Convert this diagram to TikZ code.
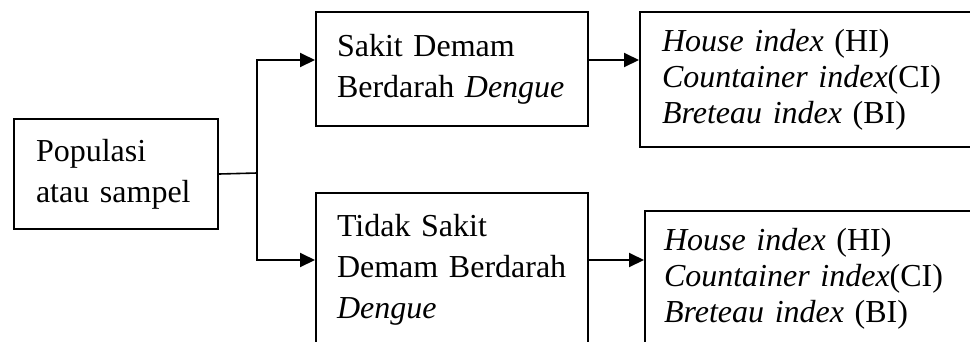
\documentclass[tikz,border=0pt]{standalone}
\usepackage{fontspec}
\setmainfont{Liberation Serif}
\usetikzlibrary{arrows.meta}

\begin{document}
\begin{tikzpicture}[x=1pt, y=-1pt,
  box/.style={draw, line width=2pt, anchor=north west, align=left,
              inner ysep=0pt, font=\fontsize{32}{41}\selectfont},
  idxbox/.style={box, font=\fontsize{32}{36}\selectfont},
  arr/.style={line width=2pt, -{Triangle[length=15pt,width=14pt]}}]

\useasboundingbox (0,0) rectangle (970,341);
\clip (0,0) rectangle (970,341);

% source box
\node[box, inner xsep=22pt, minimum width=204pt, minimum height=110pt,
      text width=160pt] (pop) at (13,118) {Populasi\\atau sampel};

% two outcome groups
\node[box, inner xsep=21pt, minimum width=272pt, minimum height=114pt,
      text width=230pt] (dbd) at (315,11) {Sakit Demam\\Berdarah \textit{Dengue}};
\node[box, inner xsep=21pt, minimum width=272pt, minimum height=153pt,
      text width=230pt] (tdbd) at (315,192) {Tidak Sakit\\Demam Berdarah\\\textit{Dengue}};

% larva indices for each group
\node[idxbox, inner xsep=22pt, minimum width=361pt, minimum height=135pt,
      text width=317pt] (idx1) at (639,11)
  {\textit{House index} (HI)\\\textit{Countainer index}(CI)\\\textit{Breteau index} (BI)};
\node[idxbox, inner xsep=19pt, minimum width=356pt, minimum height=136pt,
      text width=318pt] (idx2) at (644,210)
  {\textit{House index} (HI)\\\textit{Countainer index}(CI)\\\textit{Breteau index} (BI)};

% arrow levels on the box sides
\coordinate (dbdin)  at ([yshift=9pt]dbd.west);
\coordinate (dbdout) at ([yshift=9pt]dbd.east);
\coordinate (tdbdin)  at ([yshift=9.5pt]tdbd.west);
\coordinate (tdbdout) at ([yshift=9.5pt]tdbd.east);

% branching connector
\coordinate (fork) at (257,173);
\draw[line width=1.6pt] (pop.east) -- (fork);
\draw[arr] (fork) |- (dbdin);
\draw[arr] (fork) |- (tdbdin);

% group to index arrows
\draw[arr] (dbdout) -- (dbdout -| idx1.west);
\draw[arr] (tdbdout) -- (tdbdout -| idx2.west);
\end{tikzpicture}
\end{document}
